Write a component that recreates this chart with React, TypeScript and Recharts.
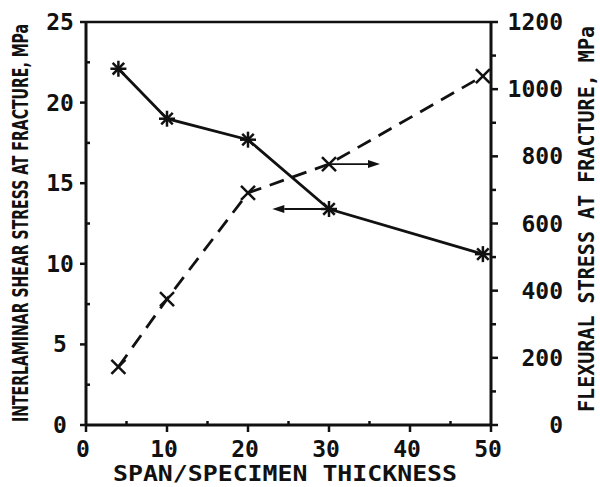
import { LineChart, Line, XAxis, YAxis, ReferenceLine } from 'recharts'

// span-to-thickness ratio of the specimens
const spanRatio = [4, 10, 20, 30, 49]
// interlaminar shear stress at fracture, MPa (left axis, asterisks)
const shearStress = [22.1, 19.0, 17.7, 13.4, 10.6]
// flexural stress at fracture, MPa (right axis, crosses)
const flexuralStress = [173, 375, 691, 777, 1039]

const xTicks = [0, 5, 10, 15, 20, 25, 30, 35, 40, 45, 50]
const shearTicks = [0, 2.5, 5, 7.5, 10, 12.5, 15, 17.5, 20, 22.5, 25]
const flexTicks = [0, 100, 200, 300, 400, 500, 600, 700, 800, 900, 1000, 1100, 1200]

// arrows telling which curve belongs to which axis
const shearArrow = { from: 30, to: 23, value: 13.4 }
const flexArrow = { from: 30, to: 36.3, value: 777 }

const data = spanRatio.map((s, i) => ({
  span: s,
  shear: shearStress[i],
  flex: flexuralStress[i],
}))

const FONT = '"DejaVu Sans Mono", monospace'
const INK = '#111'

const LeftTick = (props: any) => {
  const { x, y, payload } = props
  const major = payload.value % 5 === 0
  return (
    <g>
      <line x1={x} x2={major ? x - 6 : x + 4} y1={y} y2={y} stroke={INK} strokeWidth={2.5} />
      {major && (
        <text x={x - 26} y={y + 8} textAnchor="middle" fontFamily={FONT} fontWeight="bold" fontSize={23} fill={INK}>
          {payload.value}
        </text>
      )}
    </g>
  )
}

const RightTick = (props: any) => {
  const { x, y, payload } = props
  const major = payload.value % 200 === 0
  return (
    <g>
      <line x1={x} x2={major ? x + 7 : x + 5} y1={y} y2={y} stroke={INK} strokeWidth={2.5} />
      {major && (
        <text x={x + 72} y={y + 8} textAnchor="end" fontFamily={FONT} fontWeight="bold" fontSize={23} fill={INK}>
          {payload.value}
        </text>
      )}
    </g>
  )
}

const BottomTick = (props: any) => {
  const { x, y, payload } = props
  const major = payload.value % 10 === 0
  return (
    <g>
      <line x1={x} x2={x} y1={y} y2={major ? y + 7 : y - 4} stroke={INK} strokeWidth={2.5} />
      {major && (
        <text x={x - 3} y={y + 32} textAnchor="middle" fontFamily={FONT} fontWeight="bold" fontSize={23} fill={INK}>
          {payload.value}
        </text>
      )}
    </g>
  )
}

const AsteriskDot = (props: any) => {
  const { cx, cy, index } = props
  const r = 8
  const d = r * 0.72
  return (
    <g key={`a${index}`} stroke={INK} strokeWidth={2.5}>
      <line x1={cx - r} x2={cx + r} y1={cy} y2={cy} />
      <line x1={cx} x2={cx} y1={cy - r} y2={cy + r} />
      <line x1={cx - d} x2={cx + d} y1={cy - d} y2={cy + d} />
      <line x1={cx - d} x2={cx + d} y1={cy + d} y2={cy - d} />
    </g>
  )
}

const CrossDot = (props: any) => {
  const { cx, cy, index } = props
  const d = 7
  return (
    <g key={`c${index}`} stroke={INK} strokeWidth={2.5}>
      <line x1={cx - d} x2={cx + d} y1={cy - d} y2={cy + d} />
      <line x1={cx - d} x2={cx + d} y1={cy + d} y2={cy - d} />
    </g>
  )
}

const ArrowShape = (props: any) => {
  const { x1, y1, x2, y2 } = props
  const ang = Math.atan2(y2 - y1, x2 - x1)
  const len = 12
  const half = 4
  const bx = x2 - len * Math.cos(ang)
  const by = y2 - len * Math.sin(ang)
  const px = -Math.sin(ang) * half
  const py = Math.cos(ang) * half
  return (
    <g>
      <line x1={x1} y1={y1} x2={bx} y2={by} stroke={INK} strokeWidth={1.8} />
      <polygon points={`${x2},${y2} ${bx + px},${by + py} ${bx - px},${by - py}`} fill={INK} />
    </g>
  )
}

export default function App() {
  return (
    <div style={{ position: 'absolute', left: 0, top: 0, width: 600, height: 487, background: '#fff' }}>
      <LineChart width={600} height={487} data={data} margin={{ top: 22, right: 0, bottom: 0, left: 0 }}>
        <XAxis
          dataKey="span"
          type="number"
          domain={[0, 50]}
          ticks={xTicks}
          interval={0}
          height={62}
          tickSize={0}
          tickMargin={0}
          tickLine={false}
          tick={BottomTick}
          axisLine={{ stroke: INK, strokeWidth: 3 }}
        />
        <YAxis
          yAxisId="left"
          orientation="left"
          type="number"
          domain={[0, 25]}
          ticks={shearTicks}
          interval={0}
          width={86}
          tickSize={0}
          tickMargin={0}
          tickLine={false}
          tick={LeftTick}
          axisLine={{ stroke: INK, strokeWidth: 3 }}
        />
        <YAxis
          yAxisId="right"
          orientation="right"
          type="number"
          domain={[0, 1200]}
          ticks={flexTicks}
          interval={0}
          width={109}
          tickSize={0}
          tickMargin={0}
          tickLine={false}
          tick={RightTick}
          axisLine={{ stroke: INK, strokeWidth: 3 }}
        />
        <ReferenceLine yAxisId="left" y={25} stroke={INK} strokeWidth={2.5} />
        <Line
          yAxisId="right"
          dataKey="flex"
          type="linear"
          stroke={INK}
          strokeWidth={2.8}
          strokeDasharray="15 9"
          dot={CrossDot}
          isAnimationActive={false}
        />
        <Line
          yAxisId="left"
          dataKey="shear"
          type="linear"
          stroke={INK}
          strokeWidth={2.8}
          dot={AsteriskDot}
          isAnimationActive={false}
        />
        <ReferenceLine
          yAxisId="left"
          segment={[
            { x: shearArrow.from, y: shearArrow.value },
            { x: shearArrow.to, y: shearArrow.value },
          ]}
          shape={ArrowShape}
        />
        <ReferenceLine
          yAxisId="right"
          segment={[
            { x: flexArrow.from, y: flexArrow.value },
            { x: flexArrow.to, y: flexArrow.value },
          ]}
          shape={ArrowShape}
        />
      </LineChart>
      <svg width={600} height={487} style={{ position: 'absolute', left: 0, top: 0, pointerEvents: 'none' }}>
        <text
          x={20}
          y={223}
          transform="rotate(-90 20 223)"
          textAnchor="middle"
          dominantBaseline="central"
          fontFamily='"DejaVu Sans Condensed", "DejaVu Sans", sans-serif'
          fontWeight="bold"
          fontSize={22}
          textLength={398}
          lengthAdjust="spacingAndGlyphs"
          fill={INK}
        >
          INTERLAMINAR SHEAR STRESS AT FRACTURE, MPa
        </text>
        <text
          x={586}
          y={219}
          transform="rotate(-90 586 219)"
          textAnchor="middle"
          dominantBaseline="central"
          fontFamily={FONT}
          fontWeight="bold"
          fontSize={22}
          textLength={386}
          lengthAdjust="spacingAndGlyphs"
          fill={INK}
        >
          FLEXURAL STRESS AT FRACTURE, MPa
        </text>
        <text
          x={285}
          y={481}
          textAnchor="middle"
          fontFamily={FONT}
          fontWeight="bold"
          fontSize={22}
          textLength={344}
          lengthAdjust="spacingAndGlyphs"
          fill={INK}
        >
          SPAN/SPECIMEN THICKNESS
        </text>
      </svg>
    </div>
  )
}
